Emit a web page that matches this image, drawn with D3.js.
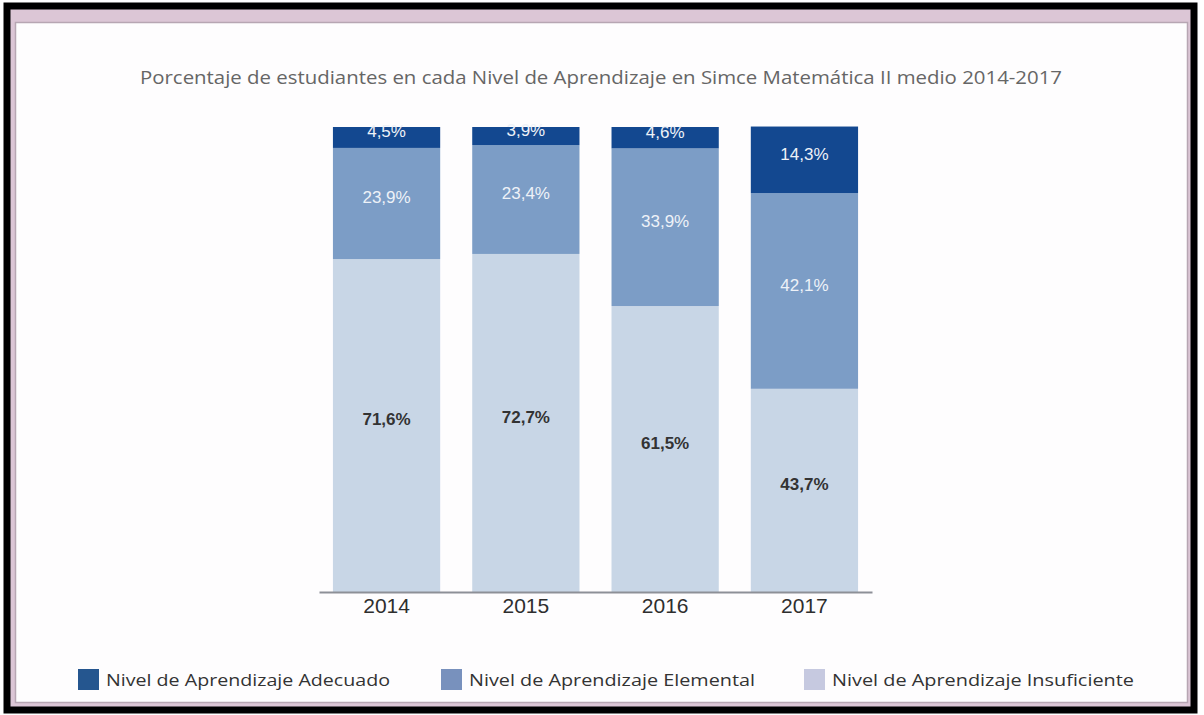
<!DOCTYPE html>
<html>
<head>
<meta charset="utf-8">
<script src="https://cdn.jsdelivr.net/npm/d3@7"></script>
<style>
  html, body { margin: 0; padding: 0; background: #ffffff; }
  svg { display: block; }
</style>
</head>
<body>
<svg id="chart" width="1204" height="715"></svg>
<script>
// Simce Matemática II medio, % of students per learning level
const years = ["2014", "2015", "2016", "2017"];
const adecuado = [4.5, 3.9, 4.6, 14.3];
const elemental = [23.9, 23.4, 33.9, 42.1];
const insuficiente = [71.6, 72.7, 61.5, 43.7];
const levelNames = [
  "Nivel de Aprendizaje Adecuado",
  "Nivel de Aprendizaje Elemental",
  "Nivel de Aprendizaje Insuficiente"
];
const title = "Porcentaje de estudiantes en cada Nivel de Aprendizaje en Simce Matemática II medio 2014-2017";

const barColors = ["#134890", "#7c9dc6", "#c8d6e6"];
const legendColors = ["#25568f", "#7891bd", "#c6c9e0"];
const labelColors = ["#eef2f8", "#eef2f8", "#333333"];

const svg = d3.select("#chart");

// Frame: black outer border, pink band, white panel
svg.append("rect").attr("x", 7).attr("y", 6).attr("width", 1187).attr("height", 704)
  .attr("fill", "#dcc6d6").attr("stroke", "#000").attr("stroke-width", 7);
svg.append("rect").attr("x", 15.5).attr("y", 22.5).attr("width", 1172).attr("height", 680)
  .attr("fill", "#fefdfe").attr("stroke", "#b7a6b3").attr("stroke-width", 1.5);

// Title
svg.append("text")
  .attr("x", 601).attr("y", 84)
  .attr("text-anchor", "middle")
  .attr("font-family", "'Open Sans', 'Noto Sans', sans-serif")
  .attr("font-size", 18)
  .attr("fill", "#666")
  .attr("textLength", 922)
  .attr("lengthAdjust", "spacingAndGlyphs")
  .text(title);

// Scales
const x = d3.scaleBand().domain(years).range([319, 872]).paddingInner(0.23).paddingOuter(0.1);
const y = d3.scaleLinear().domain([0, 100]).range([592, 127]);

// Stack rows: bottom to top = insuficiente, elemental, adecuado
const rows = years.map((yr, i) => ({
  year: yr,
  adecuado: adecuado[i],
  elemental: elemental[i],
  insuficiente: insuficiente[i]
}));
const keys = ["insuficiente", "elemental", "adecuado"];
const colorOf = { adecuado: barColors[0], elemental: barColors[1], insuficiente: barColors[2] };
const labelColorOf = { adecuado: labelColors[0], elemental: labelColors[1], insuficiente: labelColors[2] };
const stacked = d3.stack().keys(keys)(rows);

const fmt = d3.formatLocale({ decimal: ",", thousands: ".", grouping: [3], currency: ["", ""] }).format(".1f");

const layers = svg.append("g").selectAll("g").data(stacked).join("g")
  .attr("fill", d => colorOf[d.key]);

layers.selectAll("rect").data(d => d).join("rect")
  .attr("x", d => x(d.data.year))
  .attr("width", x.bandwidth())
  .attr("y", d => y(d[1]))
  .attr("height", d => y(d[0]) - y(d[1]));

// Value labels
const labels = svg.append("g")
  .attr("font-family", "'Liberation Sans', Arial, sans-serif")
  .attr("font-size", 17)
  .attr("text-anchor", "middle");
stacked.forEach(layer => {
  labels.selectAll(null).data(layer).join("text")
    .attr("x", d => x(d.data.year) + x.bandwidth() / 2)
    .attr("y", d => (y(d[0]) + y(d[1])) / 2 - 6)
    .attr("dy", "0.35em")
    .attr("fill", labelColorOf[layer.key])
    .attr("font-weight", layer.key === "insuficiente" ? "bold" : "normal")
    .text(d => fmt(d.data[layer.key]) + "%");
});

// X axis
const axis = svg.append("g")
  .attr("transform", "translate(0,592)")
  .call(d3.axisBottom(x).tickSize(0).tickSizeOuter(0).tickPadding(6));
axis.select(".domain").attr("stroke", "#8d9097").attr("stroke-width", 2);
axis.selectAll(".tick text")
  .attr("font-family", "'Liberation Sans', Arial, sans-serif")
  .attr("font-size", 21)
  .attr("fill", "#2e2e2e");

// Legend
const legendX = [78, 441, 804];
const legend = svg.append("g").selectAll("g").data(levelNames).join("g")
  .attr("transform", (d, i) => `translate(${legendX[i]},669)`);
legend.append("rect").attr("width", 21).attr("height", 21)
  .attr("fill", (d, i) => legendColors[i]);
legend.append("text")
  .attr("x", 28).attr("y", 11).attr("dy", "0.35em")
  .attr("font-family", "'Open Sans', 'Noto Sans', sans-serif")
  .attr("font-size", 17)
  .attr("fill", "#333")
  .attr("textLength", (d, i) => [284, 286, 302][i])
  .attr("lengthAdjust", "spacingAndGlyphs")
  .text(d => d);
</script>
</body>
</html>
